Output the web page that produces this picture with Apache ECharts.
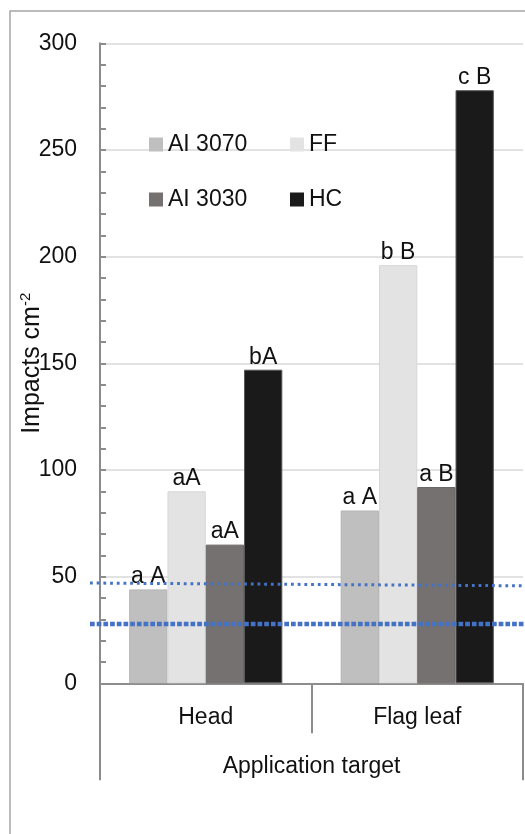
<!DOCTYPE html>
<html>
<head>
<meta charset="utf-8">
<script src="https://cdn.jsdelivr.net/npm/echarts@6/dist/echarts.min.js"></script>
<style>
html,body{margin:0;padding:0;background:#fff;}
#chart{width:525px;height:834px;}
</style>
</head>
<body>
<div id="chart"></div>
<script>
// ---- data ----
const categories = ['Head', 'Flag leaf'];
const seriesNames = ['AI 3070', 'FF', 'AI 3030', 'HC'];
const ai3070 = [44, 81];
const ff = [90, 196];
const ai3030 = [65, 92];
const hc = [147, 278];
const labelsAI3070 = ['a A', 'a A'];
const labelsFF = ['aA', 'b B'];
const labelsAI3030 = ['aA', 'a B'];
const labelsHC = ['bA', 'c B'];
const refDottedLine = [47, 45.7];
const refDashedLine = [27.8, 27.8];
const yTicks = [0, 50, 100, 150, 200, 250, 300];
const xTitle = 'Application target';

// ---- styles ----
const FONT = '"Liberation Sans", Arial, sans-serif';
const FS = 23;
const colors = ['#bfbfbf', '#e3e3e3', '#767171', '#1a1a1a'];
const borders = ['#b3b3b3', '#d6d6d6', '#6a6565', '#555555'];
const AX = '#8c8c8c';

const valueSets = [ai3070, ff, ai3030, hc];
const labelSets = [labelsAI3070, labelsFF, labelsAI3030, labelsHC];

const barSeries = seriesNames.map((name, i) => ({
  name: name,
  type: 'bar',
  xAxisIndex: 0,
  yAxisIndex: 0,
  barGap: '0%',
  barCategoryGap: '27.6%',
  itemStyle: { color: colors[i], borderColor: borders[i], borderWidth: 1 },
  label: {
    show: true,
    position: 'top',
    distance: 1,
    fontFamily: FONT,
    fontSize: FS,
    color: '#111',
    formatter: p => labelSets[i][p.dataIndex]
  },
  data: valueSets[i]
}));

const legendBase = {
  orient: 'vertical',
  top: 128,
  itemWidth: 14, itemHeight: 14, itemGap: 32,
  icon: 'rect',
  itemStyle: { borderWidth: 0 },
  textStyle: { fontFamily: FONT, fontSize: FS, color: '#111' }
};

const chart = echarts.init(document.getElementById('chart'), null, { renderer: 'canvas' });
chart.setOption({
  backgroundColor: '#fff',
  animation: false,
  graphic: [{
    type: 'rect',
    shape: { x: 10, y: 11, width: 700, height: 900 },
    style: { fill: 'none', stroke: '#a6a6a6', lineWidth: 1.5 },
    silent: true
  }],
  legend: [
    Object.assign({}, legendBase, { data: [seriesNames[0], seriesNames[2]], left: 144 }),
    Object.assign({}, legendBase, { data: [seriesNames[1], seriesNames[3]], left: 285 })
  ],
  grid: [
    { left: 100, right: 2, top: 43.3, bottom: 150.7, containLabel: false, outerBoundsMode: 'none' },
    { left: 90, right: 0, top: 43.3, bottom: 150.7, containLabel: false, outerBoundsMode: 'none' }
  ],
  xAxis: [{
    type: 'category',
    gridIndex: 0,
    position: 'bottom',
    data: categories,
    axisLine: { show: true, lineStyle: { color: AX, width: 2 } },
    axisTick: { show: true, length: 50, lineStyle: { color: AX, width: 2 } },
    axisLabel: { margin: 23, fontFamily: FONT, fontSize: FS, color: '#111' },
    splitLine: { show: false }
  }, {
    type: 'category',
    gridIndex: 0,
    position: 'bottom',
    data: [xTitle],
    axisLine: { show: false },
    axisTick: { show: true, length: 97, lineStyle: { color: AX, width: 2 } },
    axisLabel: { margin: 72, fontFamily: FONT, fontSize: FS, color: '#111' },
    splitLine: { show: false }
  }, {
    type: 'value',
    gridIndex: 1,
    min: 0, max: 1,
    show: false
  }],
  yAxis: [{
    type: 'value',
    gridIndex: 0,
    min: yTicks[0], max: yTicks[yTicks.length - 1], interval: 50,
    name: '{a|Impacts cm}{b|-2}',
    nameLocation: 'middle',
    nameGap: 53,
    nameRotate: 90,
    nameMoveOverlap: false,
    nameTextStyle: {
      rich: {
        a: { fontFamily: FONT, fontSize: 25, color: '#111', lineHeight: 29 },
        b: { fontFamily: FONT, fontSize: 15, color: '#111', verticalAlign: 'top', lineHeight: 29, padding: [0, 0, 12, 0] }
      }
    },
    axisLine: { show: true, lineStyle: { color: AX, width: 2 } },
    axisTick: { show: true, inside: true, length: 6, lineStyle: { color: AX, width: 2 } },
    minorTick: { show: true, splitNumber: 5, length: 6, lineStyle: { color: AX, width: 2 } },
    axisLabel: { margin: 23, fontFamily: FONT, fontSize: FS, color: '#111' },
    splitLine: { show: true, lineStyle: { color: '#d9d9d9', width: 1.5 } }
  }, {
    type: 'value',
    gridIndex: 1,
    min: yTicks[0], max: yTicks[yTicks.length - 1],
    show: false
  }],
  series: barSeries.concat([{
    type: 'line',
    xAxisIndex: 2,
    yAxisIndex: 1,
    symbol: 'none',
    silent: true,
    lineStyle: { color: '#4472c4', width: 3, type: [2.8, 3.9] },
    data: [[0, refDottedLine[0]], [1, refDottedLine[1]]]
  }, {
    type: 'line',
    xAxisIndex: 2,
    yAxisIndex: 1,
    symbol: 'none',
    silent: true,
    lineStyle: { color: '#4472c4', width: 4.5, type: [4.7, 2] },
    data: [[0, refDashedLine[0]], [1, refDashedLine[1]]]
  }])
});
</script>
</body>
</html>
